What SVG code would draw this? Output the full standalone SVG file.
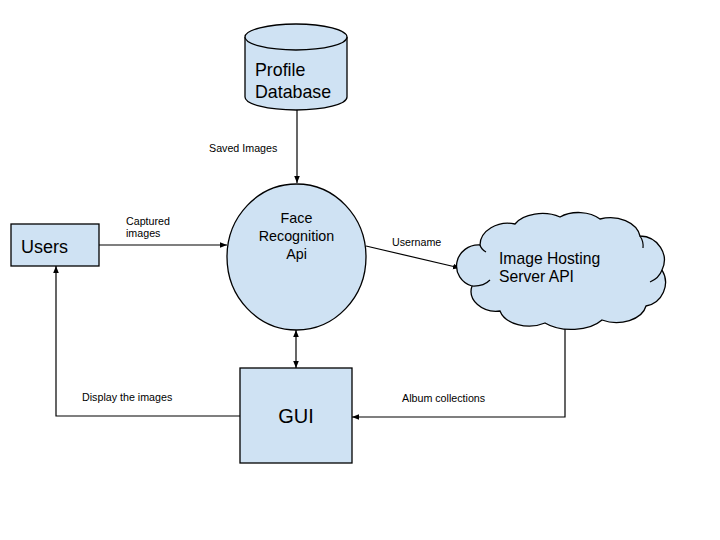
<svg xmlns="http://www.w3.org/2000/svg" width="720" height="540" viewBox="0 0 720 540">
<defs>
<marker id="ah" viewBox="0 0 10 10" refX="10" refY="5" markerWidth="7" markerHeight="7" orient="auto-start-reverse" markerUnits="userSpaceOnUse">
<path d="M0,1 L10,5 L0,9 Z" fill="#000"/>
</marker>
<style>
.shape{fill:#cfe2f3;stroke:#000;stroke-width:1.3}
.edge{fill:none;stroke:#000;stroke-width:1.2}
.t{font-family:"Liberation Sans",Arial,sans-serif;fill:#000}
.lbl{font-family:"Liberation Sans",Arial,sans-serif;font-size:10.7px;fill:#000}
</style>
</defs>
<rect width="720" height="540" fill="#fff"/>
<g id="connectors">
<line class="edge" x1="297" y1="110" x2="297" y2="183" marker-end="url(#ah)"/>
<line class="edge" x1="99" y1="245" x2="227" y2="245" marker-end="url(#ah)"/>
<line class="edge" x1="366" y1="246" x2="460" y2="268" marker-end="url(#ah)"/>
<line class="edge" x1="296" y1="330" x2="296" y2="368" marker-start="url(#ah)" marker-end="url(#ah)"/>
<polyline class="edge" points="240,416 56,416 56,266" marker-end="url(#ah)"/>
<polyline class="edge" points="565,323 565,417 352,417" marker-end="url(#ah)"/>
<text class="lbl" x="209" y="152">Saved Images</text>
<text class="lbl" x="126" y="225">Captured</text>
<text class="lbl" x="126" y="237">images</text>
<text class="lbl" x="392" y="246">Username</text>
<text class="lbl" x="82" y="401">Display the images</text>
<text class="lbl" x="402" y="402">Album collections</text>
</g>
<g id="profile-db">
<path class="shape" d="M245,37 L245,97 A51,13 0 0 0 347,97 L347,37 A51,13 0 0 0 245,37 Z"/>
<path class="shape" d="M245,37 A51,13 0 0 0 347,37" fill="none"/>
<text class="t" x="255" y="76" font-size="17.8">Profile</text>
<text class="t" x="255" y="98" font-size="17.8">Database</text>
</g>
<g id="face-api">
<ellipse class="shape" cx="296.5" cy="257" rx="69.5" ry="73"/>
<text class="t" x="296.5" y="223" font-size="14.3" text-anchor="middle">Face</text>
<text class="t" x="296.5" y="241" font-size="14.3" text-anchor="middle">Recognition</text>
<text class="t" x="296.5" y="259" font-size="14.3" text-anchor="middle">Api</text>
</g>
<g id="users">
<rect class="shape" x="11" y="224" width="88" height="42"/>
<text class="t" x="21" y="253" font-size="18">Users</text>
</g>
<g id="image-hosting">
<path class="shape" d="M480,245 A28,22 0 0 1 515,224 A30,18 0 0 1 560,217 A28,18 0 0 1 600,219 A30,22 0 0 1 640,236 A25,24 0 0 1 662,270 A24,24 0 0 1 646,306 A30,20 0 0 1 602,320 A36,20 0 0 1 545,323 A30,20 0 0 1 500,311 A25,20 0 0 1 472,286 A22,21 0 0 1 480,245 Z"/>
<path class="edge" d="M480,245 A20,12 0 0 0 486,252"/>
<path class="edge" d="M472,286 A20,14 0 0 0 490,280"/>
<path class="edge" d="M640,236 A18,18 0 0 1 643,248"/>
<path class="edge" d="M662,270 A24,20 0 0 1 650,282"/>
<text class="t" x="499" y="264" font-size="15.7">Image Hosting</text>
<text class="t" x="499" y="282" font-size="15.7">Server API</text>
</g>
<g id="gui">
<rect class="shape" x="240" y="368" width="112" height="95"/>
<text class="t" x="296" y="423" font-size="20" text-anchor="middle">GUI</text>
</g>
</svg>
